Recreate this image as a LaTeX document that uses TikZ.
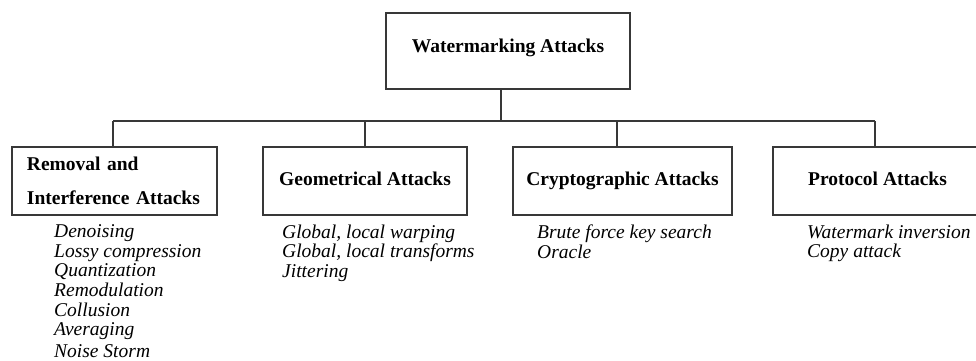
\documentclass[tikz,border=0pt]{standalone}
\usepackage{fontspec}
\setmainfont{Liberation Serif}
\begin{document}
\begin{tikzpicture}[x=1pt,y=-1pt,
  wire/.style={draw=black!78, line width=1.3pt},
  catbox/.style={wire, rectangle, inner sep=0pt, text height=13pt, text depth=4.5pt,
    font=\fontsize{19.5}{22}\selectfont\bfseries},
  items/.style={anchor=north west, inner sep=0pt, align=left,
    font=\fontsize{19.5}{19.6}\selectfont\itshape}]
  \clip (0,0) rectangle (976,360);

  % root of the taxonomy
  \node[catbox, minimum width=244pt, minimum height=76pt] (root) at (508,51)
    {\raisebox{3pt}{Watermarking Attacks}};

  % four attack classes
  \node[catbox, minimum width=205pt, minimum height=68pt, inner xsep=15pt,
    text width=175pt, align=left, text height=, text depth=] (removal) at (114.5,181)
    {Removal and\\[12pt]Interference Attacks};
  \node[catbox, minimum width=204pt, minimum height=68pt] (geom) at (365,181)
    {Geometrical Attacks};
  \node[catbox, minimum width=219pt, minimum height=68pt] (crypto) at (622.5,181)
    {Cryptographic Attacks};
  \node[catbox, minimum width=209pt, minimum height=68pt] (proto) at (877.5,181)
    {Protocol Attacks};

  % tree connectors
  \coordinate (busL) at (113,121);
  \coordinate (busR) at (875,121);
  \draw[wire] (busL) -- (busR);
  \draw[wire] ([xshift=-7pt]root.south) -- ([xshift=-7pt]root.south |- busL);
  \draw[wire] (busL) -- (busL |- removal.north);
  \draw[wire] (geom.north) -- (geom.north |- busL);
  \draw[wire] ([xshift=-5.5pt]crypto.north) -- ([xshift=-5.5pt]crypto.north |- busL);
  \draw[wire] (busR) -- (busR |- proto.north);

  % example attacks of each class
  \node[items] (remlist) at (54,224.5)
    {Denoising\\Lossy compression\\Quantization\\Remodulation\\Collusion\\Averaging\\[2.5pt]Noise Storm};
  \node[items] (geomlist) at (282,224.5)
    {Global, local warping\\Global, local transforms\\Jittering};
  \node[items] (cryptolist) at (537,224.5)
    {Brute force key search\\Oracle};
  \node[items] (protolist) at (807,224.5)
    {Watermark inversion\\Copy attack};
\end{tikzpicture}
\end{document}
